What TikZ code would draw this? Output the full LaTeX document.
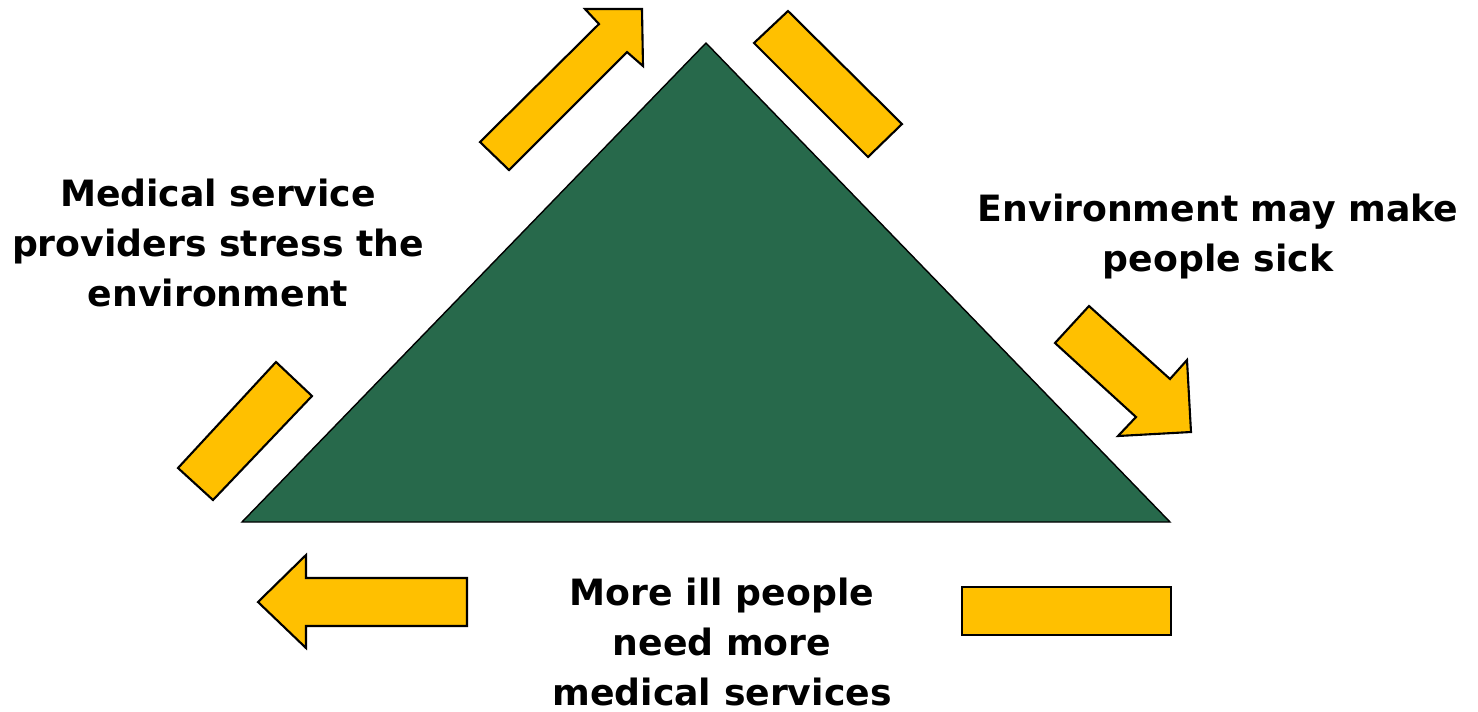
\documentclass[tikz,border=0pt]{standalone}
\usepackage{fontspec}
\setmainfont{DejaVu Sans}
\usepackage{xcolor}
\usepackage{tikz}
\usetikzlibrary{positioning}

\definecolor{envgreen}{RGB}{39,105,75}
\definecolor{arrowyellow}{RGB}{255,192,0}

\tikzset{
	block/.style={fill=arrowyellow, draw=black, line width=0.6pt, line join=miter},
	caption/.style={font=\bfseries\fontsize{10.3}{14.2}\selectfont, align=center, inner sep=0pt, anchor=base},
}

\begin{document}
\begin{tikzpicture}[x=0.01cm, y=-0.01cm]
		\useasboundingbox (0,0) rectangle (1478,711);
		\coordinate (top) at (706,43);
		\coordinate (bl) at (242,522);
		\coordinate (br) at (1170,522);
		\filldraw[fill=envgreen, draw=black, line width=0.4pt] (top) -- (br) -- (bl) -- cycle;
		% arrows round the triangle
		\draw[block] (480,142) -- (599,24) -- (585,9) -- (642,9) -- (643,66) -- (627,52) -- (509,170) -- cycle;
		\draw[block] (754,43) -- (788,11) -- (902,124) -- (868,157) -- cycle;
		\draw[block] (1055,343) -- (1089,306) -- (1170,379) -- (1187,360) -- (1191,432) -- (1118,436) -- (1136,417) -- cycle;
		\draw[block] (962,587) rectangle (1171,635);
		\draw[block] (258,602) -- (306,555) -- (306,578) -- (467,578) -- (467,626) -- (306,626) -- (306,648) -- cycle;
		\draw[block] (178,468) -- (276,362) -- (312,396) -- (213,500) -- cycle;
		% texts (base is the last line)
		\node[caption] (stress) at (218,306) {Medical service\\providers stress the\\environment};
		\node[caption] (sick) at (1218,271) {Environment may make\\people sick};
		\node[caption] (ill) at (722,705) {More ill people\\need more\\medical services};
\end{tikzpicture}
\end{document}
